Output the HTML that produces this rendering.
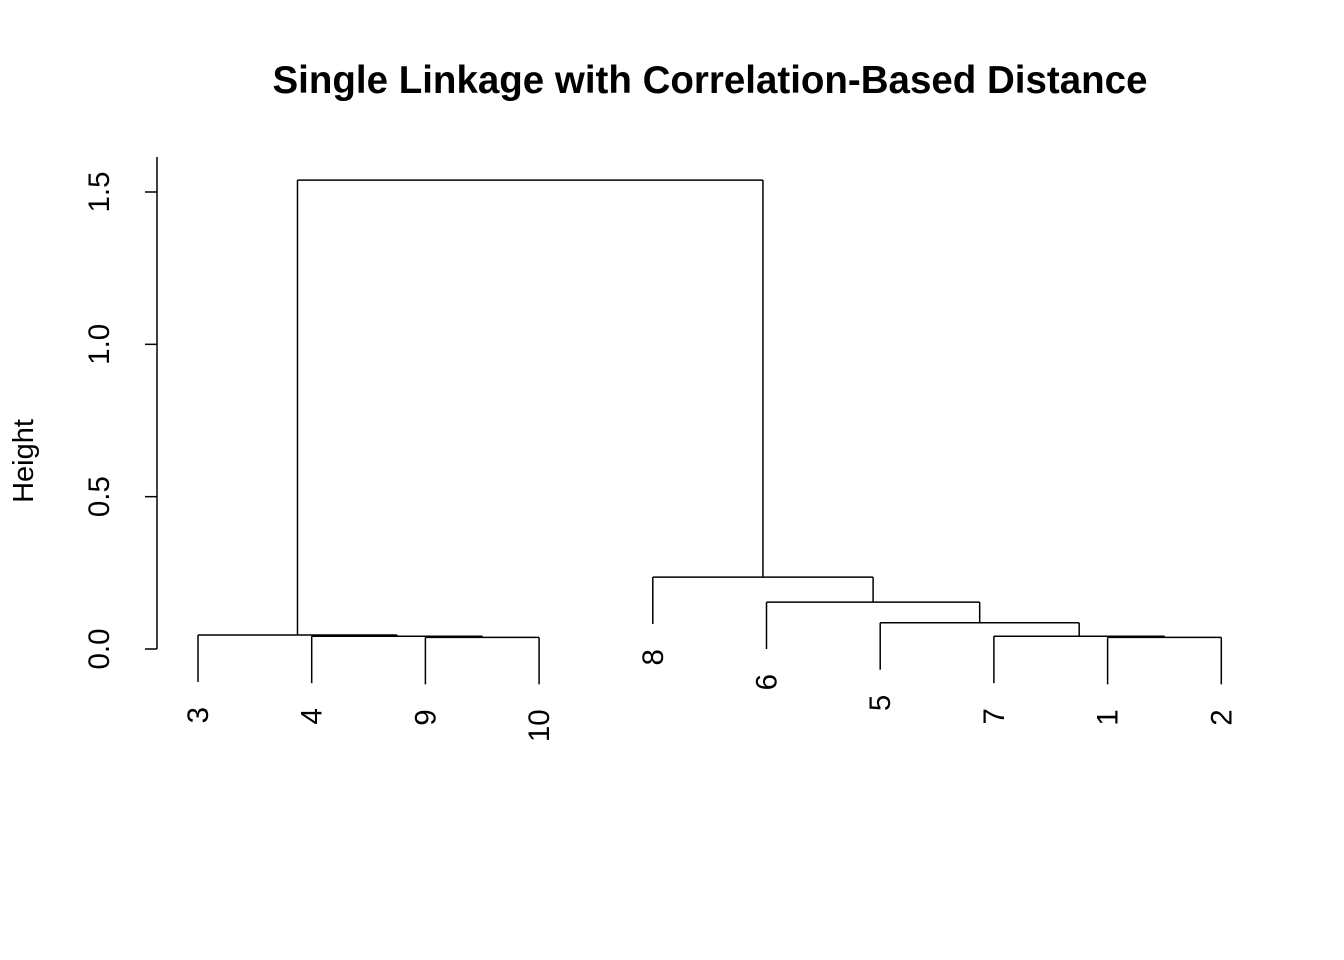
<!DOCTYPE html>
<html><head><meta charset="utf-8"><style>body{margin:0;background:#fff}svg{display:block}text{font-family:"Liberation Sans",Arial,sans-serif}</style></head>
<body>
<svg id="c" width="1344" height="960">
<text x="710" y="93" font-size="38.5" font-weight="bold" text-anchor="middle">Single Linkage with Correlation-Based Distance</text>
<text transform="translate(33,461) rotate(-90)" font-size="29" text-anchor="middle">Height</text>
<g id="ax"></g><g id="tree"></g>
</svg>
<script>
const leafOrder = ["3","4","9","10","8","6","5","7","1","2"];
const mergeNames = ["9-10","1-2","7","4","3","5","6","8","root"];
const mergeA = ["9","1","7","4","3","5","6","8","m5"];
const mergeB = ["10","2","m2","m1","m4","m3","m6","m7","m8"];
const mergeH = [0.038,0.038,0.042,0.042,0.046,0.086,0.154,0.236,1.539];
const yTicks = [0,0.5,1,1.5];
const yTickLabels = ["0.0","0.5","1.0","1.5"];
const hang = 0.154;

const NS="http://www.w3.org/2000/svg";
const y = h => 649 - h*304.67;
const xLeaf = i => 198 + i*113.7;
function mk(tag,attrs,parent){const e=document.createElementNS(NS,tag);for(const k in attrs)e.setAttribute(k,attrs[k]);parent.appendChild(e);return e;}
const ax=document.getElementById('ax'), tr=document.getElementById('tree');
const axLine=mk('line',{x1:157,x2:157,y1:y(yTicks[0]),y2:157,stroke:'#000','stroke-width':1.5},ax);


yTicks.forEach((t,i)=>{
  const l=mk('line',{x1:145,x2:157,y1:y(t),y2:y(t),stroke:'#000','stroke-width':1.5},ax);
  
  
  const tx=mk('text',{transform:`translate(109,${y(t)}) rotate(-90)`,'font-size':29.5,'text-anchor':'middle'},ax);
  tx.textContent=yTickLabels[i];
  
  
});
const pos={};
leafOrder.forEach((n,i)=>{pos[n]={x:xLeaf(i),h:null,leaf:true,name:n};});
mergeA.forEach((a,i)=>{
  const A=pos[a], B=pos[mergeB[i]], h=mergeH[i];
  [A,B].forEach(n=>{
    const bottom = n.leaf ? h-hang : n.h;
    const v=mk('line',{x1:n.x,x2:n.x,y1:y(bottom),y2:y(h),stroke:'#000','stroke-width':1.5},tr);
    
    
    if(n.leaf){
      const tx=mk('text',{transform:`translate(${n.x+10},${y(bottom)+25}) rotate(-90)`,'font-size':29.5,'text-anchor':'end'},tr);
      tx.textContent=n.name;
      
      
    }
  });
  const hl=mk('line',{x1:A.x,x2:B.x,y1:y(h),y2:y(h),stroke:'#000','stroke-width':1.5},tr);
  
  
  pos['m'+(i+1)]={x:(A.x+B.x)/2,h:h,leaf:false};
});
</script>
</body></html>
